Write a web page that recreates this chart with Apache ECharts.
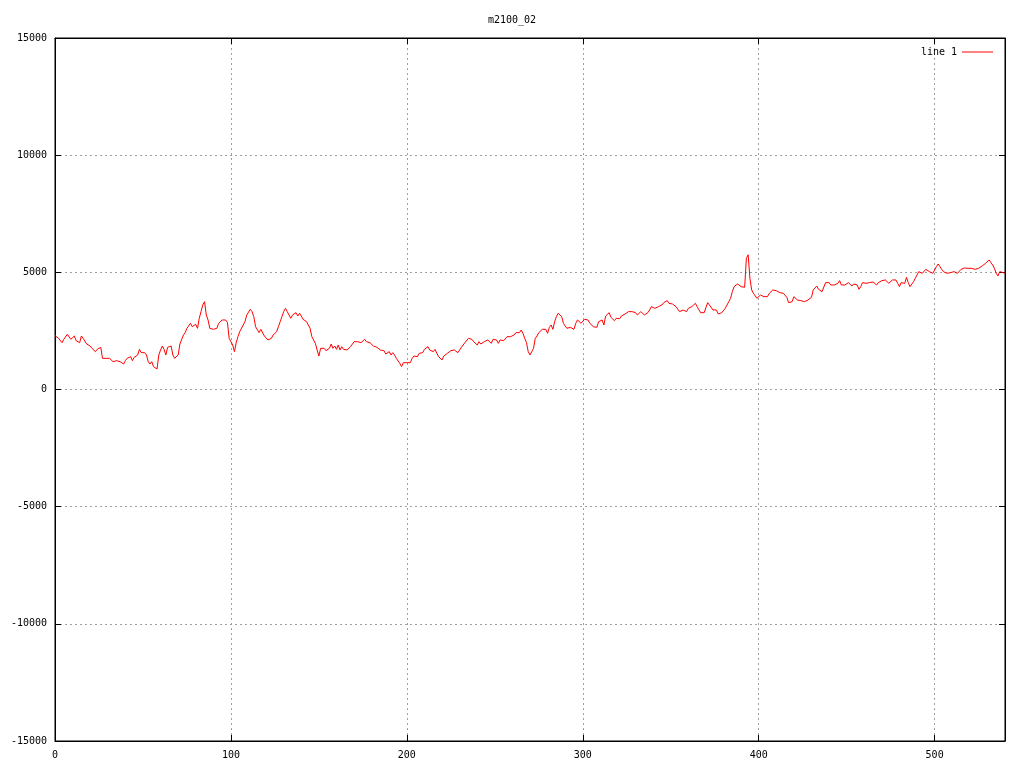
<!DOCTYPE html>
<html>
<head>
<meta charset="utf-8">
<script src="https://cdn.jsdelivr.net/npm/echarts@6/dist/echarts.min.js"></script>
<style>
html,body{margin:0;padding:0;background:#fff;}
#chart{width:1024px;height:768px;}
</style>
</head>
<body>
<div id="chart"></div>
<script>
const chartTitle = "m2100_02";
const seriesName = "line 1";
const xRange = [0, 540];
const xTickStep = 100;
const yRange = [-15000, 15000];
const yTickStep = 5000;
// one sample per x unit, x = 0 .. 540
const values = [
2300,2326,2184,2141,1999,2141,2113,2354,2354,2141,
2184,2283,2084,2113,1999,2283,2184,2113,1942,1942,
1856,1757,1686,1614,1714,1714,1799,1330,1301,1330,
1287,1330,1287,1188,1259,1230,1259,1188,1230,1088,
1230,1330,1259,1401,1230,1373,1429,1472,1714,1572,
1614,1572,1472,1188,1088,1188,974,946,875,1472,
1686,1856,1714,1472,1799,1828,1856,1472,1330,1330,
1472,1942,1999,2326,2426,2611,2653,2824,2682,2710,
2781,2611,3038,3322,3607,3749,3180,2966,2611,2611,
2568,2653,2611,2824,2824,2966,2938,2966,2867,2184,
2113,1899,1614,1999,2255,2468,2539,2753,2895,3180,
3251,3422,3322,3109,2682,2611,2426,2568,2539,2283,
2255,2113,2041,2184,2326,2283,2468,2682,2895,3109,
3322,3464,3322,3279,3038,3180,3251,3279,3137,3251,
3137,2995,3038,2895,2753,2611,2255,2184,1970,1686,
1429,1757,1799,1757,1657,1714,1757,1942,1757,1856,
1714,1899,1686,1828,1714,1799,1686,1614,1828,1799,
2041,1999,2041,2084,1999,2041,2141,2041,2113,1999,
1999,1856,1899,1799,1828,1686,1614,1657,1515,1472,
1614,1472,1572,1472,1330,1259,1116,974,1145,1145,
1145,1230,1145,1330,1429,1472,1401,1543,1614,1572,
1714,1799,1828,1686,1714,1614,1714,1686,1401,1401,
1259,1429,1401,1543,1614,1657,1714,1686,1714,1572,
1657,1799,1757,1999,2041,2184,2113,2141,2041,2041,
1899,2041,1942,1999,2041,1999,2113,2041,1970,2141,
2184,2113,1970,2113,2084,2084,2113,2255,2283,2255,
2326,2330,2426,2468,2426,2539,2397,2184,1999,1614,
1472,1614,1757,2184,2283,2426,2468,2568,2539,2568,
2397,2653,2753,2568,2895,3109,3251,3322,3109,2824,
2710,2611,2682,2653,2653,2568,2824,2966,2895,2824,
2895,2995,2966,2966,2824,2753,2681,2753,2653,2895,
2895,2966,2753,3137,3180,3279,3080,3108,2937,3037,
2994,3023,3137,3137,3222,3279,3322,3322,3322,3322,
3279,3180,3250,3322,3279,3180,3108,3279,3393,3535,
3450,3464,3393,3535,3464,3606,3706,3649,3791,3677,
3749,3649,3677,3535,3464,3322,3393,3393,3464,3322,
3464,3421,3535,3563,3677,3535,3464,3279,3279,3279,
3222,3706,3606,3563,3393,3393,3393,3222,3137,3279,
3364,3464,3606,3749,3891,4175,4389,4460,4503,4503,
4389,4360,4360,5600,5750,4745,4250,4104,4033,3891,
3900,4033,4104,3962,4033,3962,4104,4175,4247,4275,
4218,4218,4133,4218,4104,4076,3933,3706,3706,3749,
3962,3933,3820,3749,3791,3848,3749,3706,3820,3891,
3933,4247,4275,4417,4275,4247,4175,4218,4560,4560,
4560,4460,4389,4460,4531,4531,4645,4460,4417,4460,
4531,4560,4503,4417,4503,4560,4460,4275,4389,4560,
4602,4531,4545,4560,4602,4588,4531,4460,4560,4531,
4645,4560,4674,4602,4531,4602,4674,4702,4674,4531,
4389,4560,4560,4531,4787,4560,4389,4417,4602,4745,
4887,5029,4986,4958,5029,5129,5072,5029,5043,4958,
5029,5243,5357,5243,5129,5029,5100,4958,4887,4986,
4958,5029,4958,4958,5029,5129,5171,5186,5129,5171,
5100,5171,5243,5129,5214,5171,5171,5271,5314,5385,
5413,5527,5413,5314,5171,4958,4844,5029,5072,4986,
4958
];

const FONT = "'DejaVu Sans Mono', monospace";
const chart = echarts.init(document.getElementById('chart'), null, {renderer: 'canvas'});
const gridLine = {show: true, lineStyle: {color: '#a0a0a0', width: 1, type: [2, 3]}};
const tickIn = {show: true, inside: true, length: 6, lineStyle: {color: '#000'}};
const axisLn = {show: true, onZero: false, lineStyle: {color: '#000', width: 1}};
const plain = v => String(v);
chart.setOption({
  animation: false,
  backgroundColor: '#fff',
  title: {text: chartTitle, left: 'center', top: 10,
    textStyle: {fontFamily: FONT, fontSize: 10, fontWeight: 'normal', color: '#000'}},
  legend: {data: [seriesName], right: 26, top: 42, align: 'right',
    icon: 'rect', itemWidth: 31, itemHeight: 1,
    itemStyle: {color: '#ff0000'},
    textStyle: {fontFamily: FONT, fontSize: 10, color: '#000'}},
  grid: {left: 55, right: 19, top: 38, bottom: 27, show: true, borderColor: '#000', borderWidth: 1},
  xAxis: [
    {type: 'value', min: xRange[0], max: xRange[1], interval: xTickStep,
      axisLine: axisLn, axisTick: tickIn, splitLine: gridLine,
      axisLabel: {margin: 9, showMaxLabel: false, formatter: plain, fontFamily: FONT, fontSize: 10, color: '#000'}},
    {type: 'value', position: 'top', min: xRange[0], max: xRange[1], interval: xTickStep,
      axisLine: axisLn, axisTick: tickIn, splitLine: {show: false}, axisLabel: {show: false}}
  ],
  yAxis: [
    {type: 'value', min: yRange[0], max: yRange[1], interval: yTickStep,
      axisLine: axisLn, axisTick: tickIn, splitLine: gridLine,
      axisLabel: {margin: 8, formatter: plain, fontFamily: FONT, fontSize: 10, color: '#000'}},
    {type: 'value', position: 'right', min: yRange[0], max: yRange[1], interval: yTickStep,
      axisLine: axisLn, axisTick: tickIn, splitLine: {show: false}, axisLabel: {show: false}}
  ],
  series: [{
    name: seriesName, type: 'line', xAxisIndex: 0, yAxisIndex: 0,
    symbol: 'none', showSymbol: false, color: '#ff0000',
    lineStyle: {color: '#ff0000', width: 1},
    data: values.map((v, i) => [i, v])
  }]
});
</script>
</body>
</html>
